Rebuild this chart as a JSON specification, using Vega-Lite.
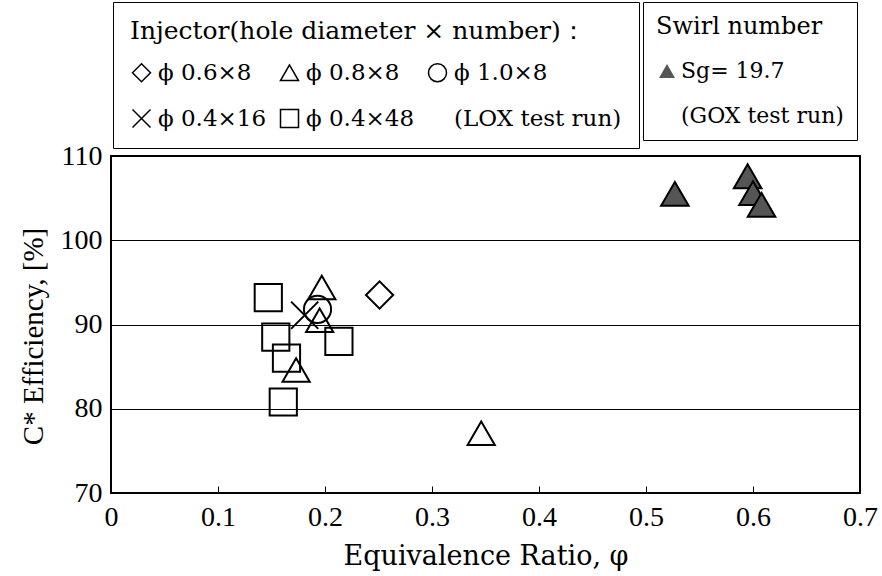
{
  "$schema": "https://vega.github.io/schema/vega-lite/v6.json",
  "width": 749,
  "height": 337,
  "autosize": {"type": "none"},
  "padding": {"left": 111, "top": 156, "right": 22, "bottom": 83},
  "background": "white",
  "config": {
    "font": "DejaVu Serif",
    "view": {"stroke": "black", "strokeWidth": 2}
  },
  "layer": [
    {
      "data": {"values": [
        {"phi": 0.251, "eff": 93.5, "injector": "ϕ 0.6×8"},
        {"phi": 0.197, "eff": 94.4, "injector": "ϕ 0.8×8"},
        {"phi": 0.195, "eff": 90.5, "injector": "ϕ 0.8×8"},
        {"phi": 0.173, "eff": 84.6, "injector": "ϕ 0.8×8"},
        {"phi": 0.346, "eff": 77.1, "injector": "ϕ 0.8×8"},
        {"phi": 0.193, "eff": 91.8, "injector": "ϕ 1.0×8"},
        {"phi": 0.181, "eff": 91.1, "injector": "ϕ 0.4×16"},
        {"phi": 0.147, "eff": 93.2, "injector": "ϕ 0.4×48"},
        {"phi": 0.154, "eff": 88.5, "injector": "ϕ 0.4×48"},
        {"phi": 0.164, "eff": 86.0, "injector": "ϕ 0.4×48"},
        {"phi": 0.213, "eff": 88.0, "injector": "ϕ 0.4×48"},
        {"phi": 0.161, "eff": 80.8, "injector": "ϕ 0.4×48"}
      ]},
      "mark": {"type": "point", "filled": false, "color": "black", "strokeWidth": 2, "opacity": 1, "size": 740},
      "encoding": {
        "x": {"field": "phi", "type": "quantitative",
          "scale": {"domain": [0, 0.7], "nice": false, "zero": false},
          "axis": {"title": "Equivalence Ratio, φ", "values": [0, 0.1, 0.2, 0.3, 0.4, 0.5, 0.6, 0.7], "format": "~g",
            "offset": -7, "grid": false, "domain": false, "ticks": true, "tickSize": 7, "tickColor": "black", "tickWidth": 1,
            "labelFont": "Liberation Serif", "labelColor": "black", "labelFontSize": 28, "labelPadding": 10, "labelFlush": false,
            "titleFont": "DejaVu Serif", "titleFontWeight": "normal", "titleColor": "black", "titleFontSize": 27, "titlePadding": 12}},
        "y": {"field": "eff", "type": "quantitative",
          "scale": {"domain": [70, 110], "nice": false, "zero": false},
          "axis": {"title": "C* Efficiency, [%]", "values": [70, 80, 90, 100, 110],
            "grid": true, "gridColor": "black", "gridWidth": 1, "gridOpacity": 1, "domain": false, "ticks": false,
            "labelFont": "Liberation Serif", "labelColor": "black", "labelFontSize": 28, "labelPadding": 9,
            "titleFont": "Liberation Serif", "titleFontWeight": "normal", "titleColor": "black", "titleFontSize": 29, "titlePadding": 12, "titleY": 180}},
        "shape": {"field": "injector", "type": "nominal",
          "scale": {"domain": ["ϕ 0.6×8", "ϕ 0.8×8", "ϕ 1.0×8", "ϕ 0.4×16", "ϕ 0.4×48", "(LOX test run)"],
            "range": ["diamond", "triangle-up", "circle", "M-1,-1L1,1M-1,1L1,-1", "square", "M0,0"]},
          "legend": {"title": "Injector(hole diameter × number)：", "orient": "none", "legendX": 2, "legendY": -154,
            "direction": "horizontal", "columns": 3, "columnPadding": 10, "rowPadding": 21,
            "titleFont": "DejaVu Serif", "titleFontSize": 25, "titleFontWeight": "normal", "titleColor": "black", "titlePadding": 17, "titleLimit": 700,
            "labelFont": "DejaVu Serif", "labelFontSize": 23, "labelColor": "black", "labelOffset": 5, "labelLimit": 500,
            "symbolSize": 324, "symbolStrokeWidth": 1.5, "symbolStrokeColor": "black", "symbolFillColor": "white",
            "strokeColor": "black", "padding": 17}}
      }
    },
    {
      "data": {"values": [
        {"phi": 0.527, "eff": 105.5, "swirl": "Sg= 19.7"},
        {"phi": 0.595, "eff": 107.6, "swirl": "Sg= 19.7"},
        {"phi": 0.600, "eff": 105.6, "swirl": "Sg= 19.7"},
        {"phi": 0.608, "eff": 104.2, "swirl": "Sg= 19.7"}
      ]},
      "mark": {"type": "point", "filled": true, "size": 760, "fill": "#555555", "stroke": "black", "strokeWidth": 2, "opacity": 1},
      "encoding": {
        "x": {"field": "phi", "type": "quantitative"},
        "y": {"field": "eff", "type": "quantitative"},
        "shape": {"field": "swirl", "type": "nominal",
          "scale": {"domain": ["Sg= 19.7", "(GOX test run)"], "range": ["triangle-up", "M0,0"]},
          "legend": {"title": "Swirl number", "orient": "none", "legendX": 532, "legendY": -154,
            "symbolSize": 256, "symbolFillColor": "#555555", "symbolStrokeColor": "black", "symbolStrokeWidth": 1.5,
            "titleFont": "DejaVu Serif", "titleFontSize": 24, "titleFontWeight": "normal", "titleColor": "black", "titlePadding": 21,
            "labelFont": "DejaVu Serif", "labelFontSize": 22, "labelColor": "black", "labelOffset": 3, "labelLimit": 400, "rowPadding": 23,
            "strokeColor": "black", "padding": 13}}
      }
    }
  ],
  "resolve": {"scale": {"shape": "independent"}, "legend": {"shape": "independent"}}
}
